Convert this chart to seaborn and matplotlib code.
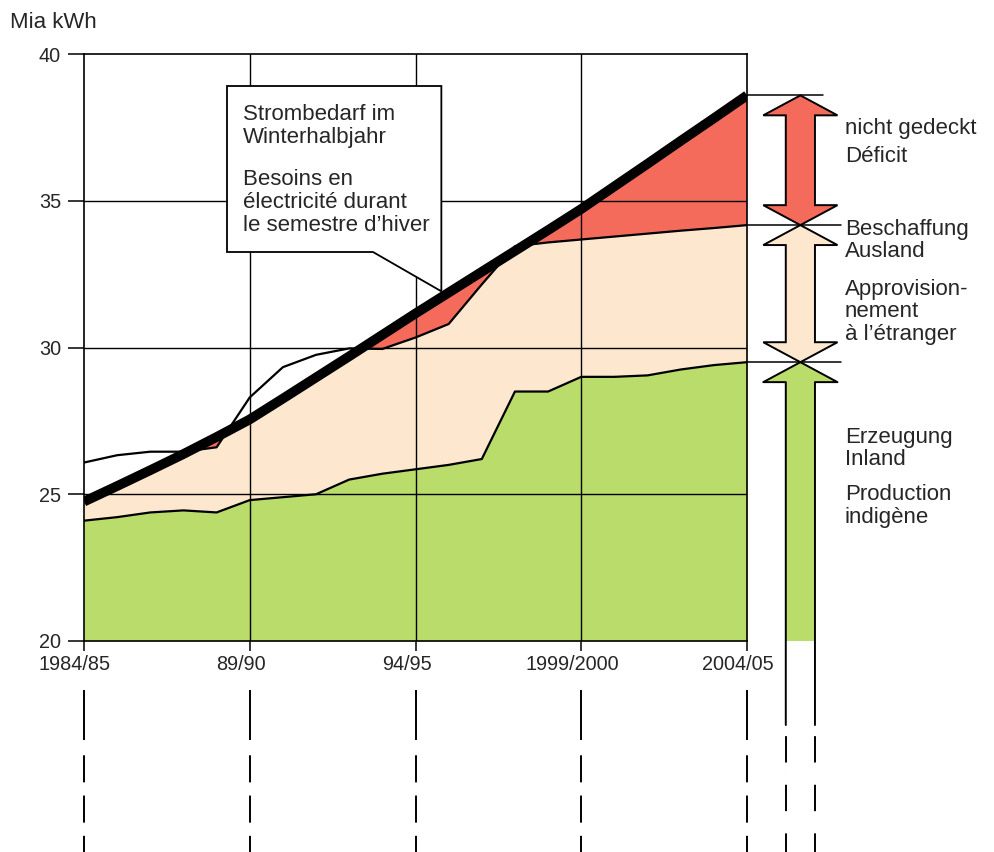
import numpy as np
import pandas as pd
import matplotlib
matplotlib.use("Agg")
import matplotlib.pyplot as plt
import matplotlib.transforms as mtransforms
import seaborn as sns

sns.set_style("white")
plt.rcParams['font.family'] = ['Liberation Sans', 'DejaVu Sans']
plt.rcParams['lines.scale_dashes'] = False

# winter half-year electricity, Mia kWh (1984/85 ... 2004/05)
season = list(range(1984, 2005))
demand = [24.75, 25.28, 25.82, 26.37, 26.95, 27.55, 28.26, 28.98, 29.70, 30.43, 31.16,
          31.87, 32.58, 33.29, 34.00, 34.72, 35.49, 36.26, 37.04, 37.81, 38.59]
supply = [26.08, 26.33, 26.45, 26.45, 26.60, 28.30, 29.33, 29.75, 29.97, 29.95, 30.34,
          30.80, 32.15, 33.45, 33.58, 33.68, 33.78, 33.88, 33.98, 34.07, 34.17]
domestic = [24.10, 24.22, 24.38, 24.45, 24.38, 24.80, 24.90, 25.00, 25.50, 25.70, 25.85,
            26.00, 26.20, 28.50, 28.50, 29.00, 29.00, 29.05, 29.25, 29.40, 29.50]
tick_seasons = ["1984/85", "89/90", "94/95", "1999/2000", "2004/05"]
tick_pos = [1984, 1989, 1994, 1999, 2004]

GREEN = "#b9dc6b"
BEIGE = "#fde8cf"
RED = "#f56b5b"

df = pd.DataFrame({"x": np.array(season) - season[0],
                   "demand": demand, "supply": supply, "domestic": domestic})

fig = plt.figure(figsize=(9.94, 8.52), dpi=100)
ax = fig.add_axes([84/994, 211/852, 663/994, 587/852])
ax.set_xlim(0, 20)
ax.set_ylim(20, 40)

# px -> data helpers for the layout bits outside the plot
def px(xp):
    return (xp - 84) / 33.15
def py(yp):
    return 40 - (yp - 54) / 29.35

# fills
xf = np.linspace(0, 20, 2001)
dem_f = np.interp(xf, df.x, df.demand)
sup_f = np.interp(xf, df.x, df.supply)
dom_f = np.interp(xf, df.x, df.domestic)
ax.fill_between(xf, 20, dom_f, color=GREEN, lw=0, zorder=1)
ax.fill_between(xf, dom_f, np.minimum(sup_f, dem_f), color=BEIGE, lw=0, zorder=1)
ax.fill_between(xf, sup_f, dem_f, where=sup_f < dem_f, interpolate=True,
                color=RED, lw=0, zorder=1)

# grid lines on top of the fills
for v in [25, 30, 35]:
    ax.axhline(v, color="black", lw=1.0, zorder=3)
for v in [5, 10, 15]:
    ax.axvline(v, color="black", lw=1.0, zorder=3)

sns.lineplot(data=df, x="x", y="domestic", color="black", lw=1.6, ax=ax, zorder=4)
sns.lineplot(data=df, x="x", y="supply", color="black", lw=1.6, ax=ax, zorder=4)
sns.lineplot(data=df, x="x", y="demand", color="black", lw=7, ax=ax, zorder=5,
             solid_capstyle="butt")

for s in ax.spines.values():
    s.set_color("black")
    s.set_linewidth(1.2)
    s.set_zorder(6)

ax.set_xlabel("")
ax.set_ylabel("")
ax.set_yticks([20, 25, 30, 35, 40])
ax.set_yticklabels(["20", "25", "30", "35", "40"], fontsize=14.3)
ax.set_xticks([p - season[0] for p in tick_pos])
ax.set_xticklabels(tick_seasons, fontsize=14.3)
ax.tick_params(axis="y", direction="out", length=11.5, width=1.1, pad=5, color="black", left=True)
ax.tick_params(axis="x", direction="out", length=7, width=1.1, pad=3, color="black", bottom=True)
shift = mtransforms.ScaledTranslation(-9/100, 0, fig.dpi_scale_trans)
for lab in ax.get_xticklabels():
    lab.set_transform(lab.get_transform() + shift)

# dashed guide lines below the axis
for p in tick_pos:
    ax.plot([p - season[0]] * 2, [py(690), py(860)], color="black", lw=1.4,
            dashes=[36, 11, 19.5, 9.5, 19.5, 9.5, 19.5, 9.5], clip_on=False, zorder=2)

# callout box
tip_x = 10.78
tip_y = np.interp(tip_x, df.x, df.demand) + 0.2
box = [(px(227), py(86)), (tip_x, py(86)), (tip_x, tip_y), (px(373), py(252)),
       (px(227), py(252))]
ax.add_patch(plt.Polygon(box, closed=True, facecolor="white", edgecolor="black",
                         lw=1.3, zorder=7, joinstyle="miter"))
box_lines = ["Strombedarf im", "Winterhalbjahr", "Besoins en",
             "électricité durant", "le semestre d\u2019hiver"]
box_base = [120, 143, 185, 208, 231]
for t, b in zip(box_lines, box_base):
    ax.text(px(243), py(b), t, fontsize=16, va="baseline", ha="left", zorder=8)

# arrows on the right
c, sw, hw, hl = 21.61, 0.44, 1.12, 0.68
top, mid, low = demand[-1], supply[-1], domestic[-1]

def double_arrow(y0, y1, color):
    pts = [(c, y1), (c + hw, y1 - hl), (c + sw, y1 - hl), (c + sw, y0 + hl),
           (c + hw, y0 + hl), (c, y0), (c - hw, y0 + hl), (c - sw, y0 + hl),
           (c - sw, y1 - hl), (c - hw, y1 - hl)]
    ax.add_patch(plt.Polygon(pts, closed=True, facecolor=color, edgecolor="black",
                             lw=1.4, clip_on=False, zorder=6, joinstyle="miter"))

double_arrow(mid, top, RED)
double_arrow(low, mid, BEIGE)
green_pts = [(c - sw, 20), (c - sw, low - hl), (c - hw, low - hl), (c, low),
             (c + hw, low - hl), (c + sw, low - hl), (c + sw, 20)]
ax.add_patch(plt.Polygon(green_pts, closed=True, facecolor=GREEN, lw=0,
                         clip_on=False, zorder=5))
gx, gy = zip(*[(c - sw, py(725)), (c - sw, low - hl), (c - hw, low - hl), (c, low),
               (c + hw, low - hl), (c + sw, low - hl), (c + sw, py(725))])
ax.plot(gx, gy, color="black", lw=1.4, clip_on=False, zorder=6)
for xx in [c - sw, c + sw]:
    ax.plot([xx, xx], [py(725), py(860)], color="black", lw=1.4, clip_on=False,
            dashes=[0.01, 8, 19, 8], zorder=6)

ax.plot([20, 22.3], [top, top], color="black", lw=1.1, clip_on=False, zorder=4)
ax.plot([20, 22.85], [mid, mid], color="black", lw=1.1, clip_on=False, zorder=4)
ax.plot([20, 22.85], [low, low], color="black", lw=1.1, clip_on=False, zorder=4)

right_lines = ["nicht gedeckt", "Déficit", "Beschaffung", "Ausland", "Approvision-",
               "nement", "à l\u2019étranger", "Erzeugung", "Inland", "Production",
               "indigène"]
right_base = [134, 162, 235, 257, 295, 317, 340, 443, 465, 500, 523]
for t, b in zip(right_lines, right_base):
    ax.text(px(845), py(b), t, fontsize=16, va="baseline", ha="left", clip_on=False)

fig.text(10/994, 1 - 28/852, "Mia kWh", fontsize=16, va="baseline", ha="left")

fig.savefig("out.png", dpi=100)
